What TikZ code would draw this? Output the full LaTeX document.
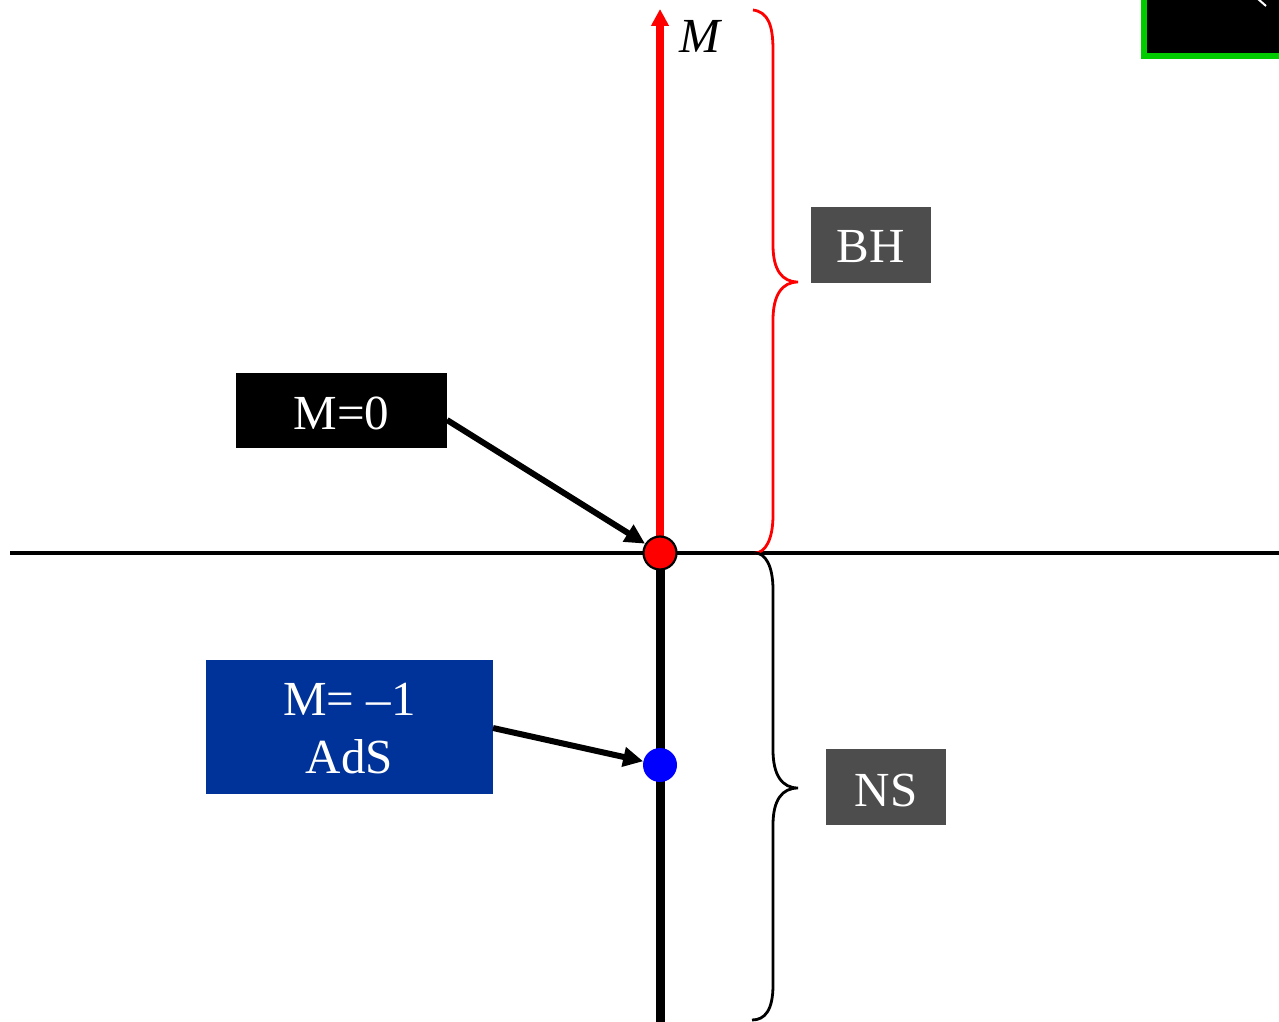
\documentclass[tikz,border=0pt]{standalone}
\usepackage{fontspec}
\setmainfont{Liberation Serif}
\usetikzlibrary{arrows.meta}
\definecolor{boxgray}{HTML}{4D4D4D}
\definecolor{adsblue}{HTML}{003399}
\definecolor{framegreen}{HTML}{00CC00}
\begin{document}
\begin{tikzpicture}[x=1pt,y=-1pt,
  label/.style={text=white,font=\fontsize{49}{58}\selectfont,inner sep=0pt,align=center},
  pointer/.style={line width=6pt,-{Triangle[length=20pt,width=19pt]}},
  brace/.style={line width=2.8pt}]
\useasboundingbox (0,0) rectangle (1279,1022);

% axes
\draw[line width=4.5pt] (10,553) -- (1279,553);
\draw[line width=9pt] (660,553) -- (660,1022);
\coordinate (top) at (660,9);
\coordinate (origin) at (660,553);
\draw[red,line width=8pt,-{Triangle[length=17pt,width=17pt]}] (origin) -- (top);
\node[font=\fontsize{49}{58}\selectfont\itshape,inner sep=0pt] (mlab) at (700,36) {M};

% special points
\node[circle,fill=red,draw=black,line width=2.2pt,minimum size=33pt,inner sep=0pt] (zero) at (660,553) {};
\node[circle,fill=blue,minimum size=34pt,inner sep=0pt] (ads) at (660,765) {};

% braces
\coordinate (bhtip) at (798,282);
\coordinate (nstip) at (798,788);
\draw[red,brace] (753,10) .. controls (768,12) and (773,25) .. (773,50) -- (773,245)
  .. controls (773,270) and (782,282) .. (bhtip)
  .. controls (782,282) and (773,295) .. (773,320) -- (773,515)
  .. controls (773,540) and (765,553) .. (755,553);
\draw[black,brace] (755,553) .. controls (765,553) and (773,565) .. (773,590) -- (773,750)
  .. controls (773,775) and (782,788) .. (nstip)
  .. controls (782,788) and (773,800) .. (773,825) -- (773,985)
  .. controls (773,1010) and (765,1020) .. (752,1020);

% labels
\fill[boxgray] (811,207) rectangle (931,283);
\node[label] (bh) at (871,247) {BH};
\fill[boxgray] (826,749) rectangle (946,825);
\node[label] (ns) at (886,791) {NS};
\fill[black] (236,373) rectangle (447,448);
\node[label] (m0) at (341.5,413) {M=0};
\coordinate (m0e) at (447,420);
\fill[adsblue] (206,660) rectangle (493,794);
\node[label] (m1) at (349.5,729) {M= –1\\AdS};
\coordinate (m1e) at (493,728);

% pointers
\draw[pointer] (m0e) -- (zero);
\draw[pointer] (m1e) -- (ads);

% corner panel
\fill[framegreen] (1141,-10) rectangle (1290,59);
\fill[black] (1147,-10) rectangle (1290,53);
\draw[white,line width=2pt] (1258,-1) -- (1266,6);
\end{tikzpicture}
\end{document}
